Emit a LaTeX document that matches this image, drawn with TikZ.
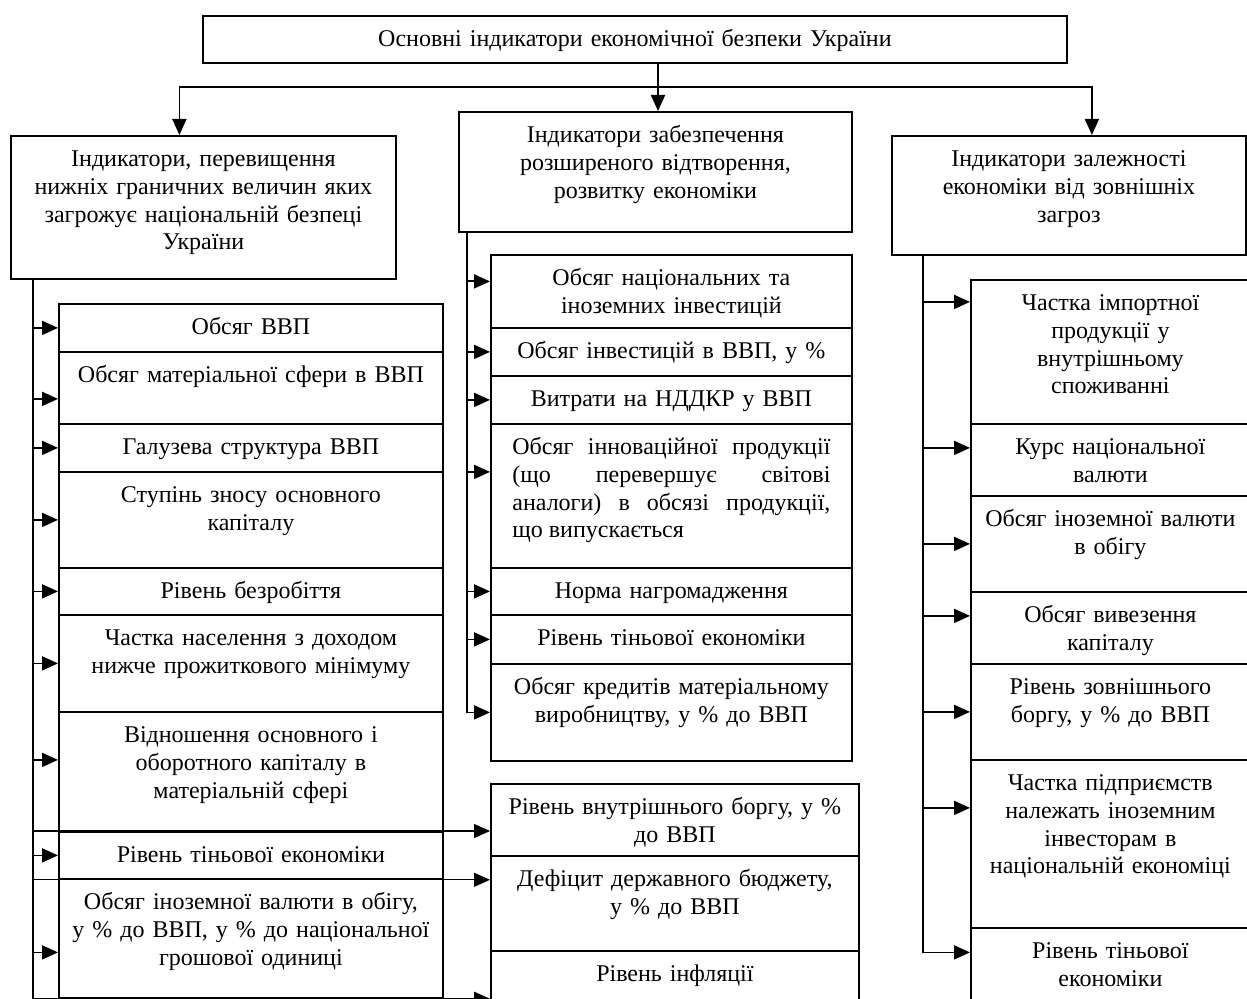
\documentclass[tikz,border=0pt]{standalone}
\usepackage{fontspec}
\setmainfont{Liberation Serif}
\usetikzlibrary{arrows.meta, positioning}

\tikzset{
  ind/.style 2 args={draw, line width=0.9pt, anchor=north west, align=center,
    inner xsep=2pt, inner ysep=0pt,
    minimum width=#1*0.5pt, minimum height=#2*0.5pt,
    text width=#1*0.5pt-8pt,
    text height=15.5pt, text depth=#2*0.5pt-15.5pt},
  arr/.style={line width=0.9pt, -{Triangle[length=8pt, width=7pt]}},
  link/.style={line width=0.9pt}
}

\begin{document}
\begin{tikzpicture}[x=0.5pt, y=-0.5pt, font=\fontsize{12pt}{13.8pt}\selectfont]
\useasboundingbox (0,0) rectangle (1247,999);

% main block
\node[ind={864}{47}] (top) at (202,15) {Основні індикатори економічної безпеки України};

\node[ind={385}{143}] (l0) at (10,135) {Індикатори, перевищення\\нижніх граничних величин яких\\загрожує національній безпеці\\України};
\node[ind={393}{120}] (m0) at (458,111) {Індикатори забезпечення\\розширеного відтворення,\\розвитку економіки};
\node[ind={354}{119}] (r0) at (891,135) {Індикатори залежності\\економіки від зовнішніх\\загроз};

\coordinate (hub) at (658,87);
\draw[link] (top.south -| hub) -- (hub);
\draw[arr] (hub) -| ([xshift=-12pt]l0.north);
\draw[arr] (hub) -- (m0.north -| hub);
\draw[arr] (hub) -| ([xshift=11.5pt]r0.north);

% left column
\foreach \n/\t/\h/\txt in {
  l1/303/48/{Обсяг ВВП},
  l2/351/72/{Обсяг матеріальної сфери в ВВП},
  l3/423/48/{Галузева структура ВВП},
  l4/471/96/{Ступінь зносу основного\\капіталу},
  l5/567/47/{Рівень безробіття},
  l6/614/97/{Частка населення з доходом\\нижче прожиткового мінімуму},
  l7/711/120/{Відношення основного і\\оборотного капіталу в\\матеріальній сфері},
  l8/831/47/{Рівень тіньової економіки},
  l9/878/119/{Обсяг іноземної валюти в обігу,\\у \% до ВВП, у \% до національної\\грошової одиниці}}
{
  \node[ind={384}{\h}] (\n) at (58,\t) {\txt};
}

% middle column
\foreach \n/\t/\h/\txt in {
  m1/254/73/{Обсяг національних та\\іноземних інвестицій},
  m2/327/48/{Обсяг інвестицій в ВВП, у \%},
  m3/375/48/{Витрати на НДДКР у ВВП},
  m5/567/47/{Норма нагромадження},
  m6/614/49/{Рівень тіньової економіки},
  m7/663/97/{Обсяг кредитів матеріальному\\виробництву, у \%  до ВВП}}
{
  \node[ind={361}{\h}] (\n) at (490,\t) {\txt};
}
\node[ind={361}{144}, text width=159pt, align=justify] (m4) at (490,423)
  {Обсяг інноваційної продукції\linebreak (що перевершує світові\linebreak аналоги) в обсязі продукції,\linebreak що випускається};

\foreach \n/\t/\h/\txt in {
  m8/783/72/{Рівень внутрішнього боргу, у \%\\до ВВП},
  m9/855/95/{Дефіцит державного бюджету,\\у \% до ВВП},
  m10/950/60/{Рівень інфляції}}
{
  \node[ind={368}{\h}] (\n) at (490,\t) {\txt};
}

% right column
\foreach \n/\t/\h/\txt in {
  r1/279/144/{Частка імпортної\\продукції у\\внутрішньому\\споживанні},
  r2/423/72/{Курс національної\\валюти},
  r3/495/96/{Обсяг іноземної валюти\\в обігу},
  r4/591/72/{Обсяг вивезення\\капіталу},
  r5/663/96/{Рівень зовнішнього\\боргу, у \% до ВВП},
  r6/759/168/{Частка підприємств\\належать іноземним\\інвесторам в\\національній економіці},
  r7/927/83/{Рівень тіньової\\економіки}}
{
  \node[ind={279}{\h}] (\n) at (970,\t) {\txt};
}

% trunks
\coordinate (trL) at ([xshift=11.5pt]l0.south west);
\coordinate (trM) at ([xshift=4.5pt]m0.south west);
\coordinate (trR) at ([xshift=16pt]r0.south west);

\draw[arr] (trL) |- (m10.west |- l9.south);
\foreach \n/\s in {l1/0pt, l2/-5.5pt, l3/0pt, l4/0pt, l5/0pt, l6/0pt, l7/6pt, l8/0pt, l9/-7pt}
{
  \coordinate (p) at ([yshift=\s]\n.west);
  \draw[arr] (trL |- p) -- (p);
}
\draw[arr, line width=0.6pt] (trL |- l8.north) -- (m8.west |- l8.north);
\draw[arr, line width=0.6pt] (trL |- l8.south) -- (m9.west |- l8.south);

\draw[arr] (trM) |- (m7.west);
\foreach \n/\s in {m1/5pt, m2/0pt, m3/0pt, m4/12pt, m5/0pt, m6/0pt}
{
  \coordinate (p) at ([yshift=\s]\n.west);
  \draw[arr] (trM |- p) -- (p);
}

\coordinate (q) at ([yshift=8.5pt]r7.west);
\draw[arr] (trR) |- (q);
\foreach \n/\s in {r1/25pt, r2/6pt, r3/0pt, r4/6pt, r5/0pt, r6/18pt}
{
  \coordinate (p) at ([yshift=\s]\n.west);
  \draw[arr] (trR |- p) -- (p);
}
\end{tikzpicture}
\end{document}
